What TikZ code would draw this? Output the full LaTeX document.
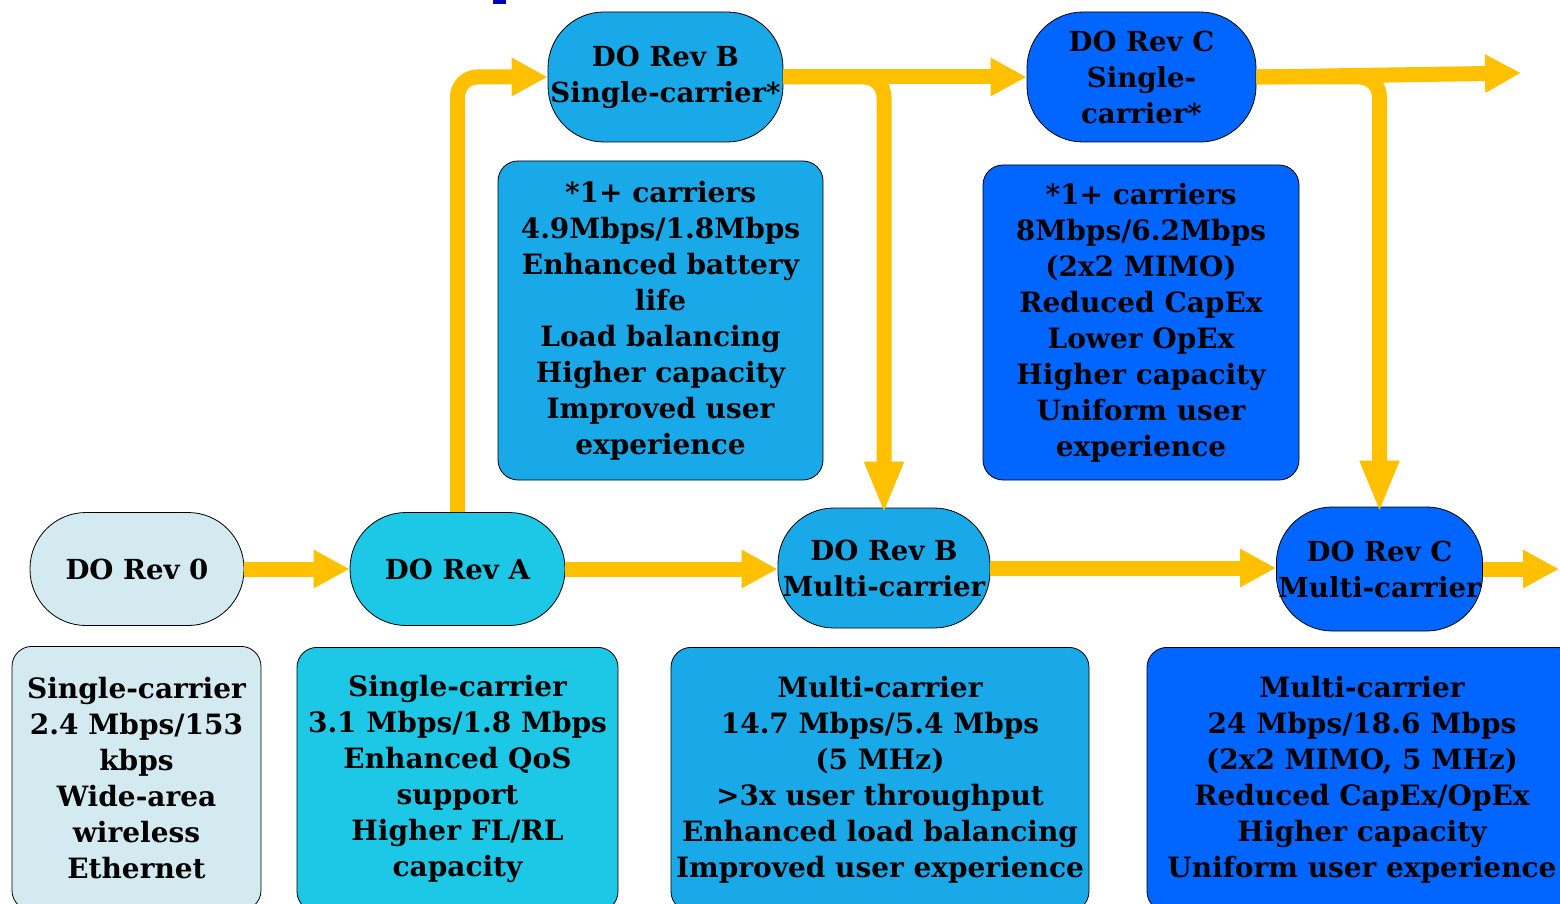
\documentclass[tikz,border=0pt]{standalone}
\usepackage{fontspec}
\setmainfont{DejaVu Serif}
\usetikzlibrary{arrows.meta}
\definecolor{revzero}{HTML}{D3EAF0}
\definecolor{reva}{HTML}{1DC8E6}
\definecolor{revb}{HTML}{1AA9E8}
\definecolor{revc}{HTML}{0066FF}
\definecolor{flowcol}{HTML}{FFC000}
\begin{document}
\begin{tikzpicture}[x=0.5pt,y=-0.5pt,
  revnode/.style={draw,thin,rounded corners=28pt,align=center,inner sep=1pt,font=\bfseries\fontsize{13.8}{18}\selectfont},
  infobox/.style={draw,thin,rounded corners=10pt,align=center,inner sep=2pt,font=\bfseries\fontsize{14}{18}\selectfont},
  flow/.style={draw=flowcol,line width=7.5pt,rounded corners=10pt,-{Triangle[length=18pt,width=18pt]}},
  longflow/.style={flow,-{Triangle[length=26pt,width=18pt]},shorten >=-3pt}]
\clip (0,0) rectangle (1560,904);
\fill[white] (0,0) rectangle (1560,904);
\fill[blue!75!black] (493,0) rectangle (506,4);
\node[revnode,fill=revzero,minimum width=107pt,minimum height=56.5pt] (rev0) at (137,569) {DO Rev 0};
\node[revnode,fill=reva,minimum width=107.5pt,minimum height=56.5pt] (revA) at (457.5,569) {DO Rev A};
\node[revnode,fill=revb,minimum width=117.5pt,minimum height=65pt] (revBs) at (665.5,77) {DO Rev B\\Single-carrier*};
\node[revnode,fill=revb,minimum width=106pt,minimum height=60pt] (revBm) at (884,568) {DO Rev B\\Multi-carrier};
\node[revnode,fill=revc,minimum width=114.5pt,minimum height=65pt] (revCs) at (1141.5,77) {DO Rev C\\Single-\\carrier*};
\node[revnode,fill=revc,minimum width=102.5pt,minimum height=62pt] (revCm) at (1379.5,569) {DO Rev C\\Multi-carrier};
\node[infobox,fill=revzero,minimum width=124.5pt,minimum height=132pt,anchor=north] (box0) at (136.5,646)
  {Single-carrier\\2.4 Mbps/153\\kbps\\Wide-area\\wireless\\Ethernet};
\node[infobox,fill=reva,minimum width=160.5pt,minimum height=132pt,anchor=north] (boxA) at (457.5,647)
  {Single-carrier\\3.1 Mbps/1.8 Mbps\\Enhanced QoS\\support\\Higher FL/RL\\capacity};
\node[infobox,fill=revb,minimum width=209pt,minimum height=132pt,anchor=north] (boxBm) at (880,647)
  {Multi-carrier\\14.7 Mbps/5.4 Mbps\\(5 MHz)\\>3x user throughput\\Enhanced load balancing\\Improved user experience};
\node[infobox,fill=revc,minimum width=215pt,minimum height=132pt,anchor=north] (boxCm) at (1362,647)
  {Multi-carrier\\24 Mbps/18.6 Mbps\\(2x2 MIMO, 5 MHz)\\Reduced CapEx/OpEx\\Higher capacity\\Uniform user experience};
\node[infobox,fill=revb,minimum width=162.5pt,minimum height=159.5pt] (boxBs) at (660.5,320.5)
  {*1+ carriers\\4.9Mbps/1.8Mbps\\Enhanced battery\\life\\Load balancing\\Higher capacity\\Improved user\\experience};
\node[infobox,fill=revc,minimum width=158pt,minimum height=157.5pt] (boxCs) at (1141,322.5)
  {*1+ carriers\\8Mbps/6.2Mbps\\(2x2 MIMO)\\Reduced CapEx\\Lower OpEx\\Higher capacity\\Uniform user\\experience};
\coordinate (outT) at (1521,73);
\coordinate (outB) at (1559,569);
\draw[flow] (rev0) -- (revA);
\draw[flow] (revA.east) -- (revBm.west |- revA.east);
\draw[flow] (revBm.east) -- (revCm.west |- revBm.east);
\draw[flow] (revCm.east) -- (outB);
\draw[flow] (revA.north) |- (revBs.west);
\draw[longflow] (revBs.east) -| (revBm.north);
\draw[flow] (revBs.east) -- (revCs.west);
\draw[longflow] (revCs.east) -| (revCm.north);
\draw[flow] (revCs.east) -- (outT);
\end{tikzpicture}
\end{document}
